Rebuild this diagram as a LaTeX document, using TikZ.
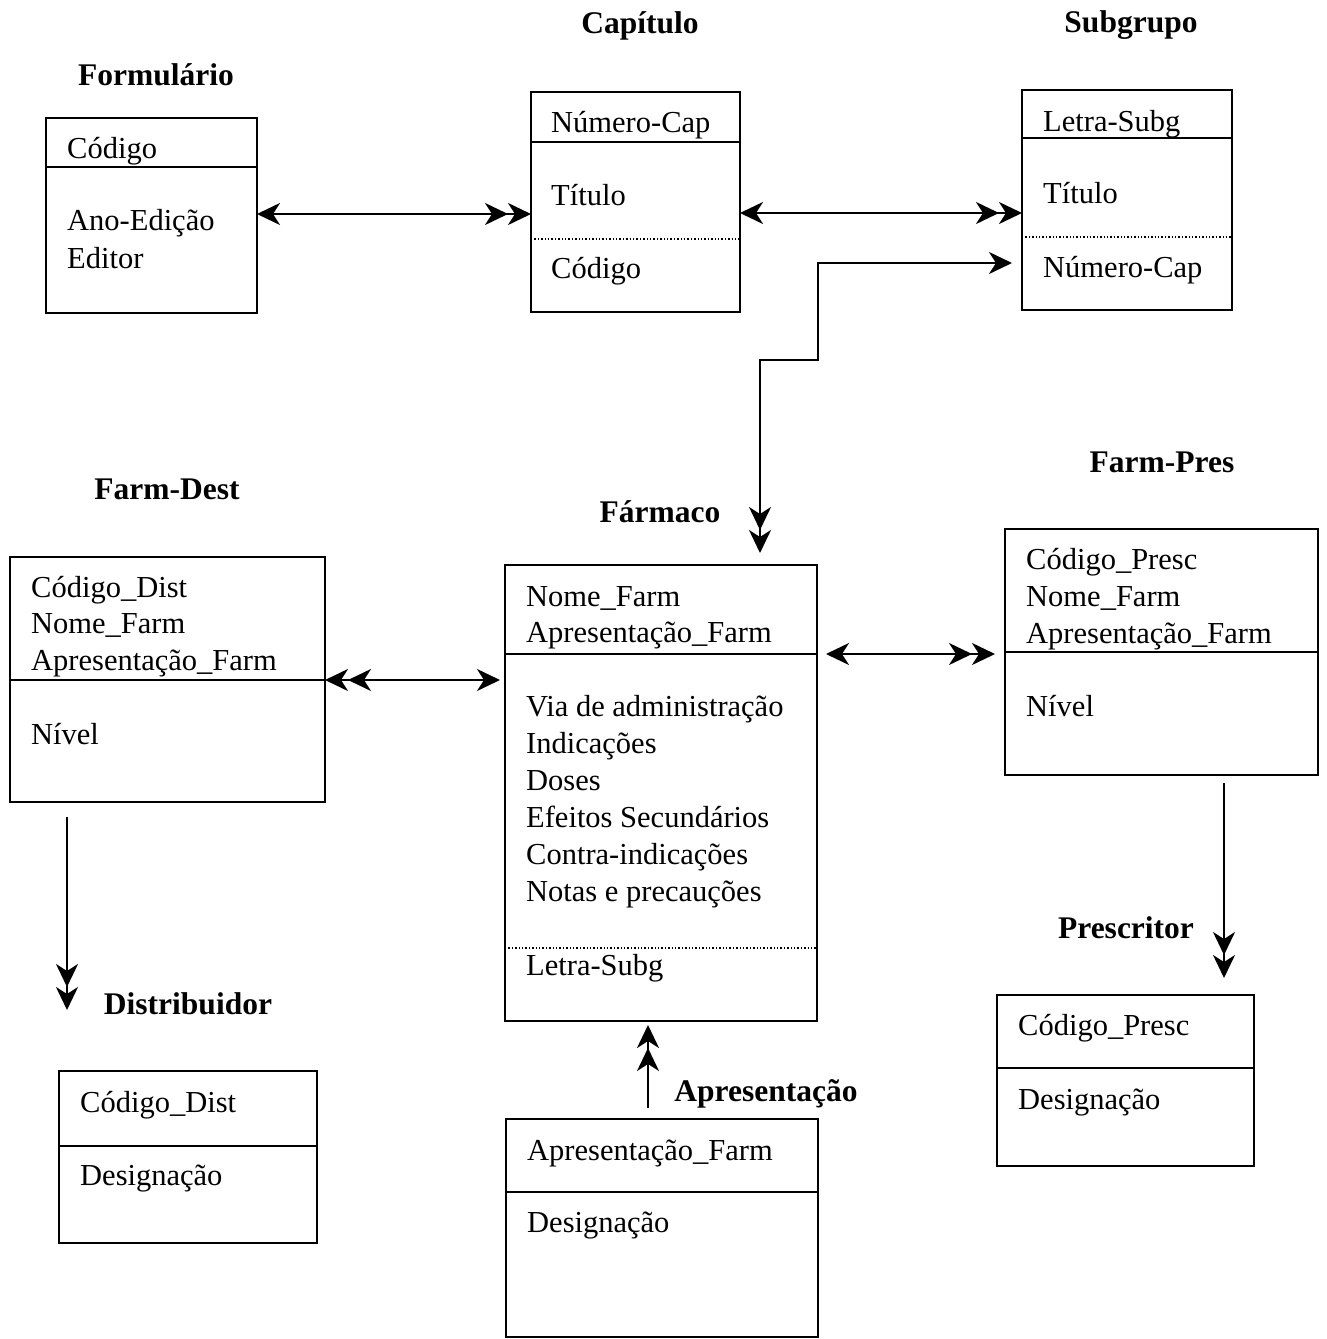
\documentclass[tikz,border=0pt]{standalone}
\usepackage{fontspec}
\setmainfont{Liberation Serif}
\usetikzlibrary{arrows.meta}
\tikzset{
  x=1pt, y=-1pt,
  >={Stealth[length=23pt,width=22pt,inset=7pt]},
  box/.style={draw, line width=2pt, inner sep=0pt, outer sep=0pt, anchor=north west},
  sepline/.style={line width=1.8pt},
  dotline/.style={line width=1.4pt, dotted},
  fld/.style={anchor=base west, inner sep=0pt, font=\fontsize{30.5}{36}\selectfont},
  ttl/.style={anchor=base, inner sep=0pt, font=\fontsize{31.5}{36}\selectfont\bfseries},
  conn/.style={line width=2.2pt},
}
\begin{document}
\begin{tikzpicture}
\useasboundingbox (0,0) rectangle (1326,1339);

% ---- Formulário
\node[ttl] (t-form) at (156,85) {Formulário};
\node[box, minimum width=211pt, minimum height=195pt] (form) at (46,118) {};
\draw[sepline] (form.west |- 0,167) -- (form.east |- 0,167);
\node[fld] (form-1) at (67,158) {Código};
\node[fld] (form-2) at (67,230) {Ano-Edição};
\node[fld] (form-3) at (67,268) {Editor};

% ---- Capítulo
\node[ttl] (t-cap) at (640,33) {Capítulo};
\node[box, minimum width=209pt, minimum height=220pt] (cap) at (531,92) {};
\draw[sepline] (cap.west |- 0,142) -- (cap.east |- 0,142);
\draw[dotline] (cap.west |- 0,239) -- (cap.east |- 0,239);
\node[fld] (cap-1) at (551,132) {Número-Cap};
\node[fld] (cap-2) at (551,205) {Título};
\node[fld] (cap-3) at (551,278) {Código};

% ---- Subgrupo
\node[ttl] (t-sub) at (1131,32) {Subgrupo};
\node[box, minimum width=210pt, minimum height=220pt] (sub) at (1022,90) {};
\draw[sepline] (sub.west |- 0,138) -- (sub.east |- 0,138);
\draw[dotline] (sub.west |- 0,237) -- (sub.east |- 0,237);
\node[fld] (sub-1) at (1043,131) {Letra-Subg};
\node[fld] (sub-2) at (1043,203) {Título};
\node[fld] (sub-3) at (1043,277) {Número-Cap};

% ---- Farm-Dest
\node[ttl] (t-fdest) at (167,499) {Farm-Dest};
\node[box, minimum width=315pt, minimum height=245pt] (fdest) at (10,557) {};
\draw[sepline] (fdest.west |- 0,680) -- (fdest.east |- 0,680);
\foreach \t [count=\i from 0] in {Código\_Dist, Nome\_Farm, Apresentação\_Farm}
  \node[fld] (fdest-k\i) at (31,{597+36.5*\i}) {\t};
\node[fld] (fdest-n) at (31,744) {Nível};

% ---- Fármaco
\node[ttl] (t-farm) at (660,522) {Fármaco};
\node[box, minimum width=312pt, minimum height=456pt] (farm) at (505,565) {};
\draw[sepline] (farm.west |- 0,654) -- (farm.east |- 0,654);
\draw[dotline] (farm.west |- 0,948) -- (farm.east |- 0,948);
\foreach \t [count=\i from 0] in {Nome\_Farm, Apresentação\_Farm}
  \node[fld] (farm-k\i) at (526,{606+36.5*\i}) {\t};
\foreach \t [count=\i from 0] in {Via de administração, Indicações, Doses,
    Efeitos Secundários, Contra-indicações, Notas e precauções}
  \node[fld] (farm-a\i) at (526,{716+37*\i}) {\t};
\node[fld] (farm-s) at (526,975) {Letra-Subg};

% ---- Farm-Pres
\node[ttl] (t-fpres) at (1162,472) {Farm-Pres};
\node[box, minimum width=313pt, minimum height=246pt] (fpres) at (1005,529) {};
\draw[sepline] (fpres.west |- 0,652) -- (fpres.east |- 0,652);
\foreach \t [count=\i from 0] in {Código\_Presc, Nome\_Farm, Apresentação\_Farm}
  \node[fld] (fpres-k\i) at (1026,{569+37*\i}) {\t};
\node[fld] (fpres-n) at (1026,716) {Nível};

% ---- Prescritor
\node[ttl] (t-presc) at (1126,938) {Prescritor};
\node[box, minimum width=257pt, minimum height=171pt] (presc) at (997,995) {};
\draw[sepline] (presc.west |- 0,1068) -- (presc.east |- 0,1068);
\node[fld] (presc-1) at (1018,1035) {Código\_Presc};
\node[fld] (presc-2) at (1018,1109) {Designação};

% ---- Distribuidor
\node[ttl] (t-dist) at (188,1014) {Distribuidor};
\node[box, minimum width=258pt, minimum height=172pt] (dist) at (59,1071) {};
\draw[sepline] (dist.west |- 0,1146) -- (dist.east |- 0,1146);
\node[fld] (dist-1) at (80,1112) {Código\_Dist};
\node[fld] (dist-2) at (80,1185) {Designação};

% ---- Apresentação
\node[ttl] (t-apres) at (766,1101) {Apresentação};
\node[box, minimum width=312pt, minimum height=218pt] (apres) at (506,1119) {};
\draw[sepline] (apres.west |- 0,1192) -- (apres.east |- 0,1192);
\node[fld] (apres-1) at (527,1160) {Apresentação\_Farm};
\node[fld] (apres-2) at (527,1232) {Designação};

% ---- Relationships
\draw[conn,<->>] (form.east |- 0,214) -- (cap.west |- 0,214);
\draw[conn,<->>] (cap.east |- 0,213) -- (sub.west |- 0,213);
\draw[conn,<<->,shorten <=12pt,shorten >=10pt]
  (farm.north -| 760,0) |- (818,360) |- (sub.west |- 0,263);
\draw[conn,<<->,shorten >=5pt] (fdest.east |- 0,680) -- (farm.west |- 0,680);
\draw[conn,<->>,shorten <=9pt,shorten >=10pt] (farm.east |- 0,654) -- (fpres.west |- 0,654);
\coordinate (dist-in) at (67,1010);
\draw[conn,->>,shorten <=15pt] (fdest.south -| 67,0) -- (dist-in);
\draw[conn,->>,shorten <=8pt,shorten >=17pt] (fpres.south -| 1224,0) -- (presc.north -| 1224,0);
\draw[conn,->>,shorten <=11pt,shorten >=4pt] (apres.north -| 648,0) -- (farm.south -| 648,0);
\end{tikzpicture}
\end{document}
